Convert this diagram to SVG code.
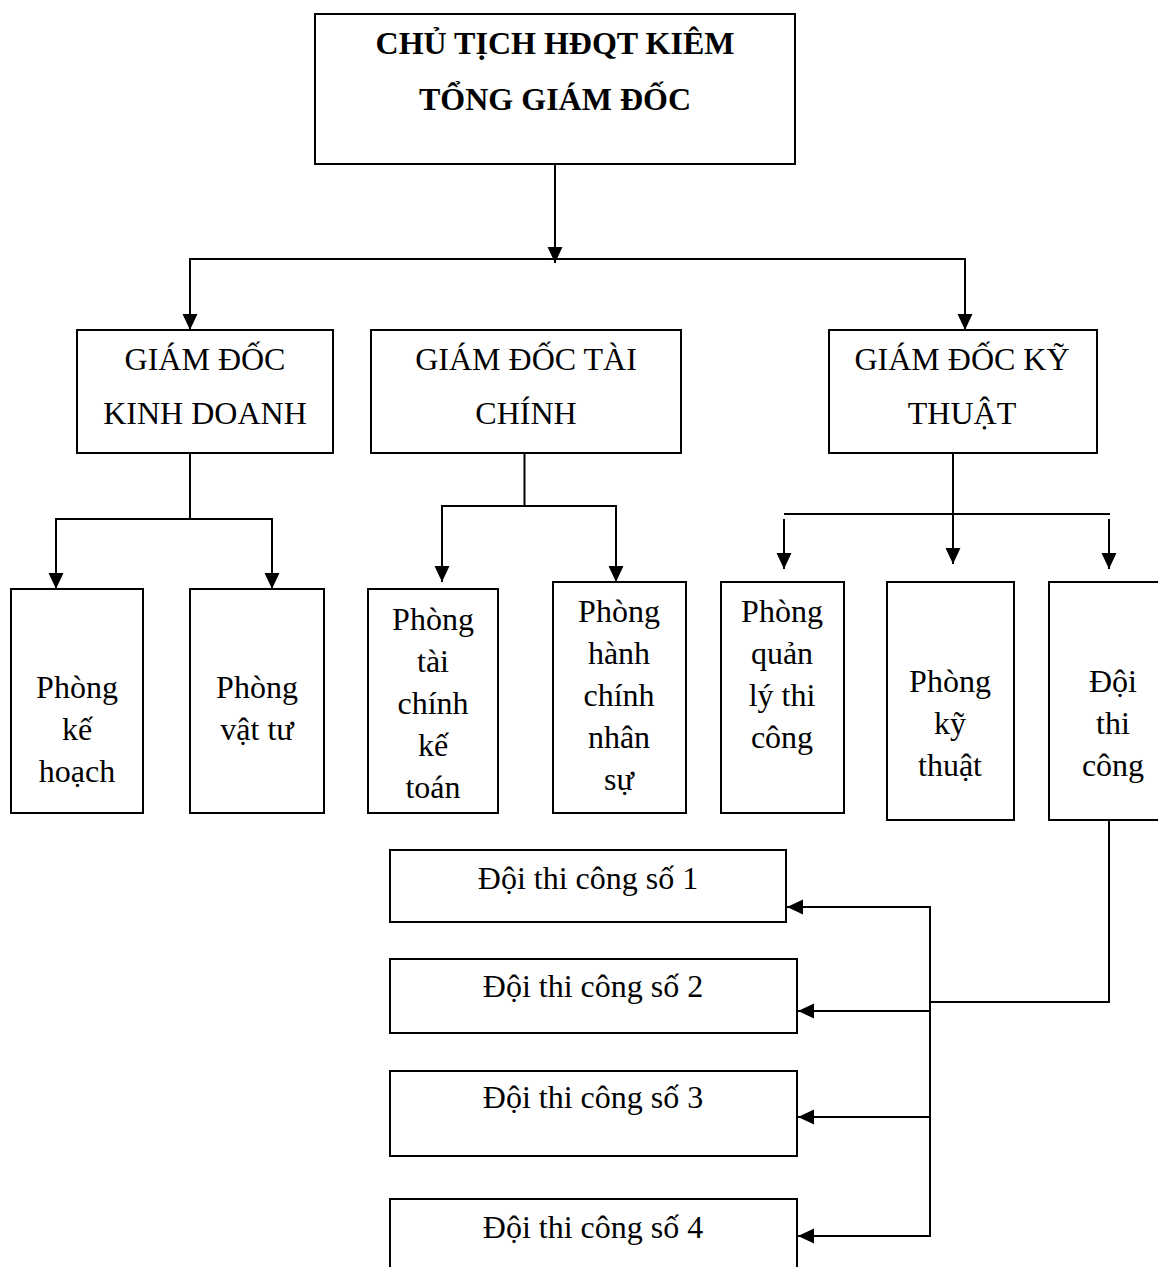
<svg xmlns="http://www.w3.org/2000/svg" width="1158" height="1267" viewBox="0 0 1158 1267">
<style>
.box{fill:#fff;stroke:#000;stroke-width:2}
.t{font-family:'Liberation Serif','Times New Roman',Tinos,'DejaVu Serif',serif;font-size:32px;fill:#000;text-anchor:middle}
.b{font-weight:bold}
.c{fill:none;stroke:#000;stroke-width:2}
</style>
<defs>
<marker id="ah" markerUnits="userSpaceOnUse" markerWidth="16" markerHeight="16" viewBox="0 0 15 14" refX="15" refY="7" orient="auto">
<path d="M0,0 L15,7 L0,14 Z" fill="#000"/>
</marker>
</defs>
<rect width="1158" height="1267" fill="#fff"/>
<g id="connectors">
<line class="c" x1="555" y1="164" x2="555" y2="263" marker-end="url(#ah)"/>
<line class="c" x1="189" y1="259" x2="966" y2="259"/>
<line class="c" x1="190" y1="259" x2="190" y2="330" marker-end="url(#ah)"/>
<line class="c" x1="965" y1="259" x2="965" y2="330" marker-end="url(#ah)"/>
<line class="c" x1="190" y1="453" x2="190" y2="519"/>
<line class="c" x1="55" y1="519" x2="273" y2="519"/>
<line class="c" x1="56" y1="519" x2="56" y2="589" marker-end="url(#ah)"/>
<line class="c" x1="272" y1="519" x2="272" y2="589" marker-end="url(#ah)"/>
<line class="c" x1="524.5" y1="453" x2="524.5" y2="506"/>
<line class="c" x1="441" y1="506" x2="617" y2="506"/>
<line class="c" x1="442" y1="506" x2="442" y2="582" marker-end="url(#ah)"/>
<line class="c" x1="616" y1="506" x2="616" y2="582" marker-end="url(#ah)"/>
<line class="c" x1="953" y1="452" x2="953" y2="564" marker-end="url(#ah)"/>
<line class="c" x1="784" y1="514" x2="1110" y2="514"/>
<line class="c" x1="784" y1="519" x2="784" y2="569" marker-end="url(#ah)"/>
<line class="c" x1="1109" y1="519" x2="1109" y2="569" marker-end="url(#ah)"/>
<polyline class="c" points="1109,820 1109,1002 930,1002"/>
<line class="c" x1="930" y1="906" x2="930" y2="1237"/>
<line class="c" x1="931" y1="907" x2="787" y2="907" marker-end="url(#ah)"/>
<line class="c" x1="931" y1="1011" x2="798" y2="1011" marker-end="url(#ah)"/>
<line class="c" x1="931" y1="1117" x2="798" y2="1117" marker-end="url(#ah)"/>
<line class="c" x1="931" y1="1236" x2="798" y2="1236" marker-end="url(#ah)"/>
</g>
<g id="ct">
<rect class="box" x="315" y="14" width="480" height="150"/>
<text class="t b" x="555" y="54">CHỦ TỊCH HĐQT KIÊM</text>
<text class="t b" x="555" y="110">TỔNG GIÁM ĐỐC</text>
</g>
<g id="gdkd">
<rect class="box" x="77" y="330" width="256" height="123"/>
<text class="t" x="205" y="370">GIÁM ĐỐC</text>
<text class="t" x="205" y="424">KINH DOANH</text>
</g>
<g id="gdtc">
<rect class="box" x="371" y="330" width="310" height="123"/>
<text class="t" x="526" y="370">GIÁM ĐỐC TÀI</text>
<text class="t" x="526" y="424">CHÍNH</text>
</g>
<g id="gdkt">
<rect class="box" x="829" y="330" width="268" height="123"/>
<text class="t" x="962" y="370">GIÁM ĐỐC KỸ</text>
<text class="t" x="962" y="424">THUẬT</text>
</g>
<g id="pkh">
<rect class="box" x="11" y="589" width="132" height="224"/>
<text class="t" x="77" y="698">Phòng</text>
<text class="t" x="77" y="740">kế</text>
<text class="t" x="77" y="782">hoạch</text>
</g>
<g id="pvt">
<rect class="box" x="190" y="589" width="134" height="224"/>
<text class="t" x="257" y="698">Phòng</text>
<text class="t" x="257" y="740">vật tư</text>
</g>
<g id="ptckt">
<rect class="box" x="368" y="589" width="130" height="224"/>
<text class="t" x="433" y="630">Phòng</text>
<text class="t" x="433" y="672">tài</text>
<text class="t" x="433" y="714">chính</text>
<text class="t" x="433" y="756">kế</text>
<text class="t" x="433" y="798">toán</text>
</g>
<g id="phcns">
<rect class="box" x="553" y="582" width="133" height="231"/>
<text class="t" x="619" y="622">Phòng</text>
<text class="t" x="619" y="664">hành</text>
<text class="t" x="619" y="706">chính</text>
<text class="t" x="619" y="748">nhân</text>
<text class="t" x="619" y="790">sự</text>
</g>
<g id="pqltc">
<rect class="box" x="721" y="582" width="123" height="231"/>
<text class="t" x="782" y="622">Phòng</text>
<text class="t" x="782" y="664">quản</text>
<text class="t" x="782" y="706">lý thi</text>
<text class="t" x="782" y="748">công</text>
</g>
<g id="pkt">
<rect class="box" x="887" y="582" width="127" height="238"/>
<text class="t" x="950" y="692">Phòng</text>
<text class="t" x="950" y="734">kỹ</text>
<text class="t" x="950" y="776">thuật</text>
</g>
<g id="dtc">
<rect class="box" x="1049" y="582" width="130" height="238"/>
<text class="t" x="1113" y="692">Đội</text>
<text class="t" x="1113" y="734">thi</text>
<text class="t" x="1113" y="776">công</text>
</g>
<g id="d1">
<rect class="box" x="390" y="850" width="396" height="72"/>
<text class="t" x="588" y="889">Đội thi công số 1</text>
</g>
<g id="d2">
<rect class="box" x="390" y="959" width="407" height="74"/>
<text class="t" x="593" y="997">Đội thi công số 2</text>
</g>
<g id="d3">
<rect class="box" x="390" y="1071" width="407" height="85"/>
<text class="t" x="593" y="1108">Đội thi công số 3</text>
</g>
<g id="d4">
<rect class="box" x="390" y="1199" width="407" height="90"/>
<text class="t" x="593" y="1238">Đội thi công số 4</text>
</g>
</svg>
